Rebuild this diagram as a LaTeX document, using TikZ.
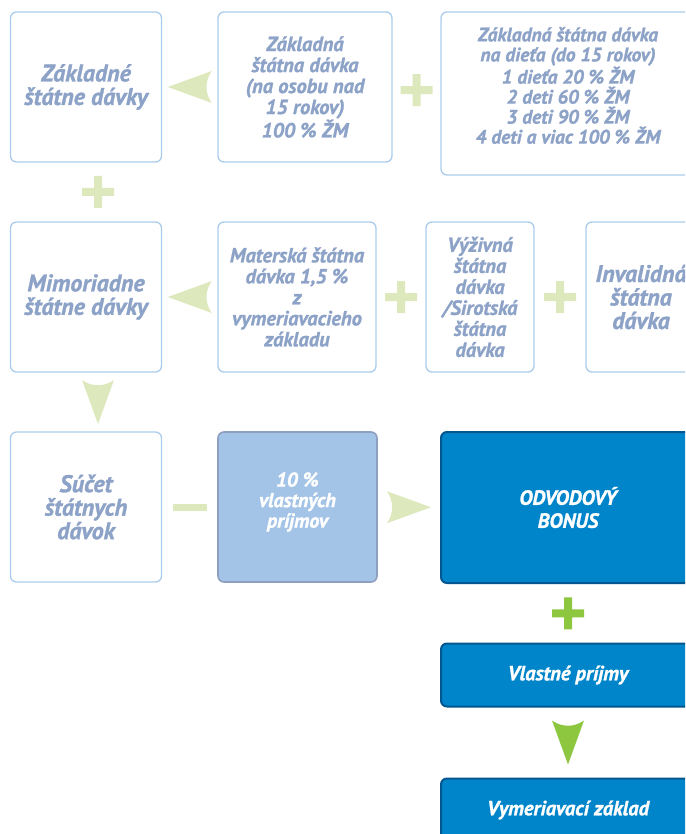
\documentclass[tikz,border=0pt]{standalone}
\usepackage{fontspec}
\setmainfont{PT Sans}[BoldFont={PT Sans Bold},BoldItalicFont={PT Sans Bold Italic},BoldItalicFeatures={FakeBold=1.2}]
\usepackage{tikz}

\definecolor{paleline}{HTML}{A9CCEC}
\definecolor{paletext}{HTML}{8DA2C7}
\definecolor{palegreen}{HTML}{DDE8BC}
\definecolor{brightgreen}{HTML}{8DC63F}
\definecolor{midfill}{HTML}{A3C4E7}
\definecolor{midline}{HTML}{8E9FC1}
\definecolor{bluefill}{HTML}{0085CA}
\definecolor{blueline}{HTML}{00578F}

\tikzset{
  chev/.pic={\fill[pic actions] (22,0) -- (-22,-16) .. controls (-15,-6) and (-15,6) .. (-22,16) -- cycle;},
  plus/.pic={\fill[pic actions] (-16,-4) rectangle (16,4) (-4,-16) rectangle (4,16);},
  minus/.pic={\fill[pic actions] (-17,-3.5) rectangle (17,3.5);}
}

\begin{document}
\begin{tikzpicture}[x=1pt,y=-1pt,
  pale node/.style={draw=paleline,line width=1.3pt,rounded corners=6pt,align=center,text=paletext,
    font=\bfseries\itshape\fontsize{20.5}{21}\selectfont,inner sep=0pt},
  big node/.style={pale node,font=\bfseries\itshape\fontsize{24}{23.5}\selectfont},
  mid node/.style={draw=midline,fill=midfill,line width=1.6pt,rounded corners=6pt,align=center,text=white,
    font=\bfseries\itshape\fontsize{20}{20.5}\selectfont,inner sep=0pt},
  blue node/.style={draw=blueline,fill=bluefill,line width=2pt,rounded corners=6pt,align=center,text=white,
    font=\bfseries\itshape\fontsize{20.5}{23}\selectfont,inner sep=0pt}]
  \useasboundingbox (0,0) rectangle (685,834);
  \clip (0,0) rectangle (685,834);

  % row 1
  \node[big node,minimum width=151,minimum height=150] (zsd) at (86,87) {Základné\\štátne dávky};
  \node[pale node,minimum width=174,minimum height=150] (osoba) at (305,87) {Základná\\štátna dávka\\(na osobu nad\\15 rokov)\\100 \% ŽM};
  \node[pale node,minimum width=254,minimum height=163] (dieta) at (568,93.5) {};
  \node[pale node,draw=none,font=\bfseries\itshape\fontsize{19.5}{20}\selectfont] (dietatext) at (568,85.5)
    {Základná štátna dávka\\na dieťa (do 15 rokov)\\1 dieťa 20 \% ŽM\\2 deti 60 \% ŽM\\3 deti 90 \% ŽM\\4 deti a viac 100 \% ŽM};

  % row 2
  \node[big node,minimum width=151,minimum height=150] (msd) at (86,297) {Mimoriadne\\štátne dávky};
  \node[pale node,minimum width=158,minimum height=150] (mat) at (297,297) {Materská štátna\\dávka 1,5 \%\\z\\vymeriavacieho\\základu};
  \node[pale node,minimum width=108,minimum height=150] (vyz) at (480,297) {Výživná\\štátna\\dávka\\/Sirotská\\štátna\\dávka};
  \node[big node,minimum width=110,minimum height=150] (inv) at (641,297) {Invalidná\\štátna\\dávka};

  % row 3
  \node[big node,minimum width=151,minimum height=150] (sum) at (86,507) {Súčet\\štátnych\\dávok};
  \node[mid node,minimum width=159,minimum height=150] (perc) at (297.5,507) {};
  \node[mid node,draw=none,fill=none] (perctext) at (297.5,502) {10 \%\\vlastných\\príjmov};
  \node[blue node,minimum width=254,minimum height=151] (bonus) at (568,507.5) {ODVODOVÝ\\BONUS};
  \node[blue node,minimum width=254,minimum height=63] (prij) at (568,675) {Vlastné príjmy};
  \node[blue node,minimum width=254,minimum height=63] (vym) at (568,810) {Vymeriavací základ};

  % signs between the boxes
  \path (osoba.west) -- (zsd.east) pic[midway,rotate=180,fill=palegreen] {chev};
  \path (osoba.east) -- (dieta.west) pic[midway,fill=palegreen] {plus};
  \path (zsd.south) -- (msd.north) pic[midway,xshift=12,fill=palegreen] {plus};
  \path (mat.west) -- (msd.east) pic[midway,rotate=180,fill=palegreen] {chev};
  \path (mat.east) -- (vyz.west) pic[midway,fill=palegreen] {plus};
  \path (vyz.east) -- (inv.west) pic[midway,fill=palegreen] {plus};
  \path (msd.south) -- (sum.north) pic[midway,xshift=12,rotate=-90,fill=palegreen] {chev};
  \path (sum.east) -- (perc.west) pic[midway,fill=palegreen] {minus};
  \path (perc.east) -- (bonus.west) pic[midway,fill=palegreen] {chev};
  \path (bonus.south) -- (prij.north) pic[midway,fill=brightgreen] {plus};
  \path (prij.south) -- (vym.north) pic[midway,rotate=-90,fill=brightgreen] {chev};
\end{tikzpicture}
\end{document}
